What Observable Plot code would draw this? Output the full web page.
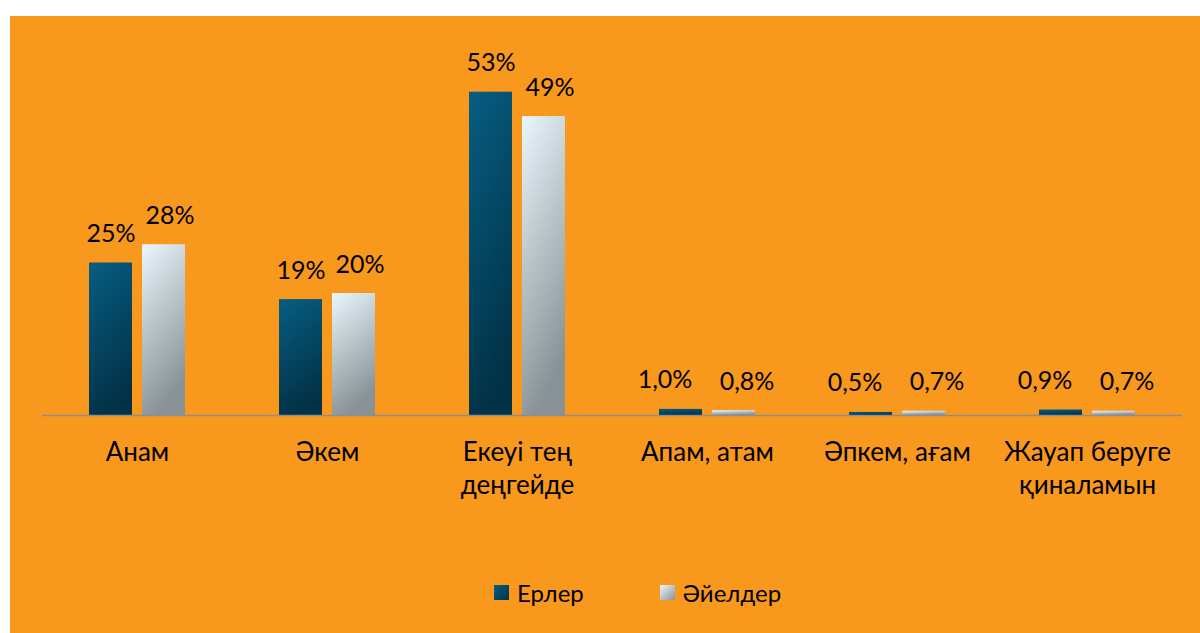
<!DOCTYPE html>
<html>
<head>
<meta charset="utf-8">
<script src="https://cdn.jsdelivr.net/npm/d3@7"></script>
<script src="https://cdn.jsdelivr.net/npm/@observablehq/plot@0.6"></script>
<style>
  html, body { margin: 0; padding: 0; background: #ffffff; }
  #frame { position: absolute; left: 10px; top: 16px; width: 1190px; height: 617px; background: #F8981D; overflow: hidden; }
  #chart svg { display: block; background: transparent; }
  #legend { position: absolute; left: 484px; top: 562px; height: 28px; display: flex; align-items: center; font-family: Lato, "Open Sans", sans-serif; font-size: 24px; color: #000; }
  .item { display: flex; align-items: center; }
  .item + .item { margin-left: 76px; }
  .sw { width: 15px; height: 15px; margin-right: 8px; }
</style>
</head>
<body>
<div id="frame">
  <div id="chart"></div>
  <div id="legend"></div>
</div>
<script>
const categories = ["Анам", "Әкем", "Екеуі тең\nдеңгейде", "Апам, атам", "Әпкем, ағам", "Жауап беруге\nқиналамын"];
const series = ["Ерлер", "Әйелдер"];
const men = [25, 19, 53, 1.0, 0.5, 0.9];
const women = [28, 20, 49, 0.8, 0.7, 0.7];

const rows = [];
categories.forEach((c, i) => {
  rows.push({cat: c, series: series[0], value: men[i]});
  rows.push({cat: c, series: series[1], value: women[i]});
});

const fmt = d => d.value >= 10 ? `${Math.round(d.value)}%` : `${d.value.toFixed(1).replace(".", ",")}%`;
const font = 'Lato, "Open Sans", sans-serif';
const labelOpts = {fx: "cat", x: "series", y: "value", text: fmt, dy: -21, lineAnchor: "bottom", fontSize: 25, fill: "#000"};
const isMen = d => d.series === series[0];
const isBig = d => d.value >= 10;

const chart = Plot.plot({
  width: 1190,
  height: 545,
  marginTop: 33,
  marginBottom: 146,
  marginLeft: 31,
  marginRight: 18,
  style: {fontFamily: font, background: "transparent", color: "#000"},
  fx: {domain: categories, padding: 0, axis: null},
  x: {domain: series, paddingInner: 0.185, paddingOuter: 0.852, axis: null},
  y: {domain: [0, 60], axis: null},
  color: {domain: series, range: ["url(#gradMen)", "url(#gradWomen)"]},
  marks: [
    Plot.barY(rows, {fx: "cat", x: "series", y: "value", fill: "series"}),
    Plot.ruleY([0], {stroke: "#8E8E8E", strokeWidth: 1.5}),
    Plot.text(rows.filter(d => isMen(d) && isBig(d)), {...labelOpts, dx: 0}),
    Plot.text(rows.filter(d => !isMen(d) && isBig(d)), {...labelOpts, dx: 6}),
    Plot.text(rows.filter(d => isMen(d) && !isBig(d)), {...labelOpts, dx: -16}),
    Plot.text(rows.filter(d => !isMen(d) && !isBig(d)), {...labelOpts, dx: 13}),
    Plot.text(categories, {fx: d => d, text: d => d, frameAnchor: "bottom", lineAnchor: "top", dy: 22, fontSize: 26, lineHeight: 1.28, fill: "#000"})
  ]
});

chart.insertAdjacentHTML("afterbegin", `
<defs>
  <linearGradient id="gradMen" x1="0" y1="0" x2="0.3" y2="1">
    <stop offset="0" stop-color="#065E83"/>
    <stop offset="1" stop-color="#023247"/>
  </linearGradient>
  <linearGradient id="gradWomen" x1="0" y1="0" x2="0.3" y2="1">
    <stop offset="0" stop-color="#EAF7FC"/>
    <stop offset="1" stop-color="#899297"/>
  </linearGradient>
</defs>`);

document.getElementById("chart").appendChild(chart);

const legend = document.getElementById("legend");
const swatchCss = ["linear-gradient(135deg, #065E83, #023247)", "linear-gradient(135deg, #EAF7FC, #899297)"];
series.forEach((s, i) => {
  const item = document.createElement("div");
  item.className = "item";
  const sw = document.createElement("div");
  sw.className = "sw";
  sw.style.background = swatchCss[i];
  const label = document.createElement("span");
  label.textContent = s;
  item.appendChild(sw);
  item.appendChild(label);
  legend.appendChild(item);
});
</script>
</body>
</html>
